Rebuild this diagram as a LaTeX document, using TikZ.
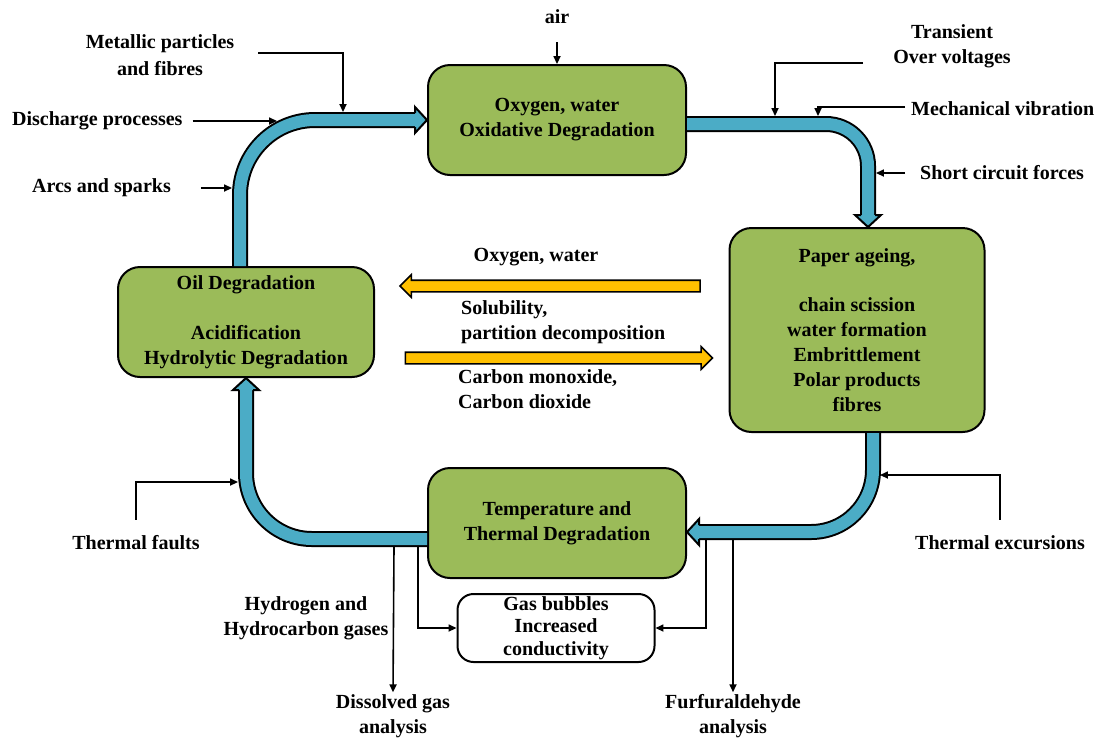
\documentclass[tikz,border=0pt]{standalone}
\usepackage{fontspec}
\setmainfont{Liberation Serif}
\usetikzlibrary{arrows.meta,shapes.arrows}
\definecolor{leafgreen}{RGB}{155, 187, 89}
\definecolor{cyanblue}{RGB}{75, 172, 198}
\definecolor{sunflower}{RGB}{255, 192, 0}
\newlength\pxu
\setlength\pxu{0.02cm}
\tikzset{
  phead/.pic={
    \fill[cyanblue] (0,0) -- (-12,-13) -- (-12,13) -- cycle;
    \draw[line width=2\pxu, line join=miter] (-12,-7) -- (-12,-13) -- (0,0) -- (-12,13) -- (-12,7);
  }
}

\begin{document}
\begin{tikzpicture}[x=0.02cm, y=-0.02cm,
    every node/.style={font=\fontsize{11.4}{14.2}\selectfont\bfseries},
    stage/.style={draw=black, line width=2\pxu, fill=leafgreen, rounded corners=22\pxu,
                  align=center, inner sep=0pt},
    result/.style={draw=black, line width=2\pxu, fill=white, rounded corners=16\pxu,
                   font=\fontsize{11.4}{12.9}\selectfont\bfseries,
                   align=center, inner sep=0pt, minimum width=197\pxu, minimum height=68\pxu},
    lbl/.style={align=center, inner sep=1pt},
    feed/.style={line width=1.6\pxu, -{Triangle[length=4.5pt, width=4pt]}},
    pipe/.style={line width=16\pxu, draw=black, postaction={draw=cyanblue, line width=12\pxu}},
    flow/.style={single arrow, draw=black, line width=1.6\pxu, fill=sunflower, inner sep=5\pxu,
                 minimum width=21\pxu, single arrow head extend=5.5\pxu}]
    \useasboundingbox (0,0) rectangle (1095,738);

    \node[stage, minimum width=258\pxu, minimum height=110\pxu] (ox)   at (557,120) {Oxygen, water\\Oxidative Degradation};
    \node[stage, minimum width=255\pxu, minimum height=204\pxu] (pap)  at (857,330) {Paper ageing,\\[14.2pt]chain scission\\water formation\\Embrittlement\\Polar products\\fibres};
    \node[stage, minimum width=256\pxu, minimum height=110\pxu] (oil)  at (246,322) {Oil Degradation\\[14.2pt]Acidification\\Hydrolytic Degradation};
    \node[stage, minimum width=258\pxu, minimum height=110\pxu] (temp) at (557,523) {Temperature and\\Thermal Degradation};
    \node[result] (gas) at (556,628) {Gas bubbles\\Increased\\conductivity};

    \node[flow, minimum height=300\pxu, shape border rotate=180] (oxflow) at (553,286) {};
    \node[flow, minimum height=307\pxu]                          (coflow) at (556,358) {};

    \node[lbl]             (air)    at (557,17)  {air};
    \node[lbl]             (metal)  at (160,55)  {Metallic particles\\[1pt]and fibres};
    \node[lbl, anchor=west] (dis)   at (10,121)  {Discharge processes};
    \node[lbl, anchor=west] (arcs)  at (30,188)  {Arcs and sparks};
    \node[lbl]             (trans)  at (952,46)  {Transient\\Over voltages};
    \node[lbl, anchor=west] (mech)  at (909,109) {Mechanical vibration};
    \node[lbl, anchor=west] (scf)   at (918,173) {Short circuit forces};
    \node[lbl]             (texc)   at (1000,543) {Thermal excursions};
    \node[lbl]             (tfault) at (136,543) {Thermal faults};
    \node[lbl]             (hydro)  at (306,618) {Hydrogen and\\Hydrocarbon gases};
    \node[lbl]             (dga)    at (393,716) {Dissolved gas\\analysis};
    \node[lbl]             (fa)     at (733,716) {Furfuraldehyde\\analysis};
    \node[lbl]             (oxw)    at (536,257) {Oxygen, water};
    \node[lbl, align=left, anchor=west] (sol)  at (459,322) {Solubility,\\partition decomposition};
    \node[lbl, align=left, anchor=west] (carb) at (456,389) {Carbon monoxide,\\Carbon dioxide};

    \draw[pipe, rounded corners=75\pxu] ([xshift=-6\pxu]oil.north) |- ([xshift=-12\pxu]ox.west);
    \draw[pipe, rounded corners=42\pxu] ([yshift=-4\pxu]ox.east) -| ([shift={(11\pxu,12\pxu)}]pap.north);
    \draw[pipe, rounded corners=62\pxu] ([xshift=16\pxu]pap.south) |- ([shift={(12\pxu,-9\pxu)}]temp.east);
    \draw[pipe, rounded corners=66\pxu] ([yshift=-16\pxu]temp.west) -| ([yshift=-12\pxu]oil.south);
    \pic at (ox.west) {phead};
    \pic[rotate=-90] at ([xshift=11\pxu]pap.north) {phead};
    \pic[rotate=180] at ([yshift=-9\pxu]temp.east) {phead};
    \pic[rotate=90]  at (oil.south) {phead};

    \coordinate (airin) at (557,42);
    \coordinate (mp) at (343,112);
    \coordinate (dp) at (277,121);
    \coordinate (ap) at (232,188);
    \coordinate (tp) at (775,116);
    \coordinate (mv) at (818,116);
    \coordinate (sc) at (876,173);
    \coordinate (te) at (880,475);
    \coordinate (tf) at (238,482);
    \coordinate (dg) at (394,547);
    \coordinate (gl) at (418,547);
    \coordinate (gr) at (706,540);
    \coordinate (fz) at (733,540);

    \draw[feed] (airin) -- (ox.north);
    \draw[feed] (metal.east) ++(22,-2) -| (mp);
    \draw[feed] (dis.east) ++(8,0) -- (dp);
    \draw[feed] (arcs.east) ++(28,0) -- (ap);
    \draw[feed] (trans.west) ++(-28,17) -| (tp);
    \draw[feed] (mech.west) ++(-4,-2) -| (mv);
    \draw[feed] (scf.west) ++(-13,0) -- (sc);
    \draw[feed] (texc.north) ++(0,-14) |- (te);
    \draw[feed] (tfault.north) ++(0,-14) |- (tf);
    \draw[feed] (dg) -- (dga.north);
    \draw[feed] (gl) |- (gas.west);
    \draw[feed] (gr) |- (gas.east);
    \draw[feed] (fz) -- (fa.north);
\end{tikzpicture}
\end{document}
